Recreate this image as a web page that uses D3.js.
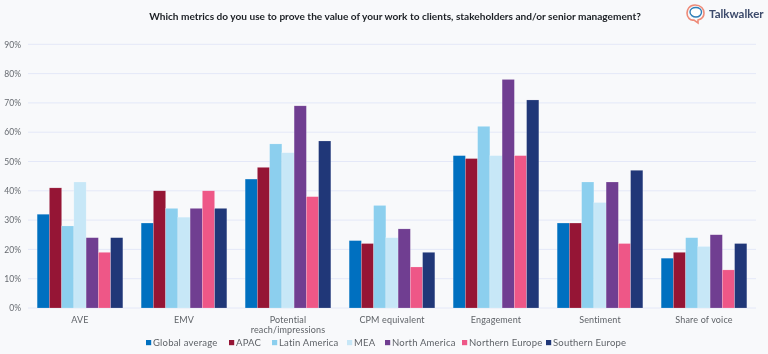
<!DOCTYPE html>
<html>
<head>
<meta charset="utf-8">
<title>Metrics</title>
<style>
  html, body { margin: 0; padding: 0; background: #f8f9fb; }
  svg { display: block; filter: blur(0.5px); }
  text { font-family: Lato, "Open Sans", sans-serif; }
</style>
</head>
<body>
<svg width="768" height="354"></svg>
<script src="https://d3js.org/d3.v7.min.js"></script>
<script>
var categories = ["AVE", "EMV", "Potential reach/impressions", "CPM equivalent", "Engagement", "Sentiment", "Share of voice"];
var seriesNames = ["Global average", "APAC", "Latin America", "MEA", "North America", "Northern Europe", "Southern Europe"];
var globalAverage = [32, 29, 44, 23, 52, 29, 17];
var apac = [41, 40, 48, 22, 51, 29, 19];
var latinAmerica = [28, 34, 56, 35, 62, 43, 24];
var mea = [43, 31, 53, 24, 52, 36, 21];
var northAmerica = [24, 34, 69, 27, 78, 43, 25];
var northernEurope = [19, 40, 38, 14, 52, 22, 13];
var southernEurope = [24, 34, 57, 19, 71, 47, 22];
var yTicks = [0, 10, 20, 30, 40, 50, 60, 70, 80, 90];

var allSeries = [globalAverage, apac, latinAmerica, mea, northAmerica, northernEurope, southernEurope];
var colors = ["#0070c0", "#951535", "#8ccfee", "#c7e7f7", "#703e91", "#ee5787", "#203778"];
var legendX = [146, 229, 272, 347, 385, 462, 546];

var svg = d3.select("svg");

var x = d3.scaleBand().domain(categories).range([28, 756]).paddingInner(0.176).paddingOuter(0.088);
var x1 = d3.scaleBand().domain(d3.range(seriesNames.length)).range([0, x.bandwidth()]);
var y = d3.scaleLinear().domain([0, 90]).range([308, 44.3]);

// gridlines
svg.append("g").selectAll("line")
    .data(yTicks)
    .enter().append("line")
    .attr("x1", 28).attr("x2", 756)
    .attr("y1", function (d) { return y(d); })
    .attr("y2", function (d) { return y(d); })
    .attr("stroke", "#e4e8f8")
    .attr("stroke-width", 1);

// y axis labels
var yAxis = svg.append("g")
    .attr("transform", "translate(28,0)")
    .call(d3.axisLeft(y).tickValues(yTicks).tickSize(0).tickPadding(7).tickFormat(function (d) { return d + "%"; }));
yAxis.select(".domain").remove();
yAxis.selectAll("text").style("font-size", "8.5px").attr("fill", "#666a70");

// bars
var layer = svg.selectAll(".layer")
    .data(allSeries)
    .enter().append("g")
    .attr("class", "layer")
    .attr("fill", function (d, i) { return colors[i]; });

layer.each(function (values, s) {
    d3.select(this).selectAll("rect")
        .data(values)
        .enter().append("rect")
        .attr("x", function (d, i) { return x(categories[i]) + x1(s); })
        .attr("y", function (d) { return y(d); })
        .attr("width", x1.bandwidth())
        .attr("height", function (d) { return y(0) - y(d); })
        .attr("stroke", "#ffffff")
        .attr("stroke-opacity", 0.35)
        .attr("stroke-width", 0.5);
});

// x axis labels
var xAxis = svg.append("g")
    .attr("transform", "translate(0,308)")
    .call(d3.axisBottom(x).tickSize(0).tickPadding(8.5));
xAxis.select(".domain").remove();
xAxis.selectAll("text")
    .style("font-size", "9px")
    .style("letter-spacing", "0.15px")
    .attr("fill", "#5f6368")
    .each(function (d) {
        if (d === "Potential reach/impressions") {
            var t = d3.select(this), tx = t.attr("x") || 0;
            t.text(null);
            t.append("tspan").attr("x", tx).attr("dy", "0.71em").text("Potential");
            t.append("tspan").attr("x", tx).attr("dy", "1.1em").text("reach/impressions");
            t.attr("dy", null);
        }
    });

// legend
var legend = svg.selectAll(".legend")
    .data(seriesNames)
    .enter().append("g")
    .attr("class", "legend")
    .attr("transform", function (d, i) { return "translate(" + legendX[i] + ",340)"; });
legend.append("rect")
    .attr("width", 5.2).attr("height", 5.2)
    .attr("fill", function (d, i) { return colors[i]; });
legend.append("text")
    .attr("x", 7)
    .attr("y", 2.8)
    .attr("dy", "0.35em")
    .style("font-size", "9.5px")
    .style("letter-spacing", "0.2px")
    .attr("fill", "#5f6368")
    .text(function (d) { return d; });

// title
svg.append("text")
    .attr("x", 395)
    .attr("y", 20)
    .attr("text-anchor", "middle")
    .style("font-size", "10.1px")
    .style("font-weight", "700")
    .attr("fill", "#1b1f24")
    .text("Which metrics do you use to prove the value of your work to clients, stakeholders and/or senior management?");

// logo
var logo = svg.append("g").attr("transform", "translate(696,13)");
logo.append("path")
    .attr("d", "M-1,-8 C-7,-8 -9,-3 -9,0 C-9,4 -6,8 -2,7 L2,10 L2,7 C6,6 8,3 8,0 C8,-4 5,-8 -1,-8 Z")
    .attr("fill", "none").attr("stroke", "#ee8a78").attr("stroke-width", 1.6);
logo.append("path")
    .attr("d", "M-6,-1 C-6,-4 -3,-5.5 0,-5.5 C3,-5.5 5.5,-3.5 5.5,-1 C5.5,2 3,4 0,4 C-3,4 -6,2 -6,-1 Z")
    .attr("fill", "#ffffff").attr("stroke", "#2f7fb8").attr("stroke-width", 1.4);
svg.append("text")
    .attr("x", 709)
    .attr("y", 18)
    .style("font-size", "11.5px")
    .style("font-weight", "700")
    .attr("fill", "#3c4a6b")
    .text("Talkwalker");
</script>
</body>
</html>
